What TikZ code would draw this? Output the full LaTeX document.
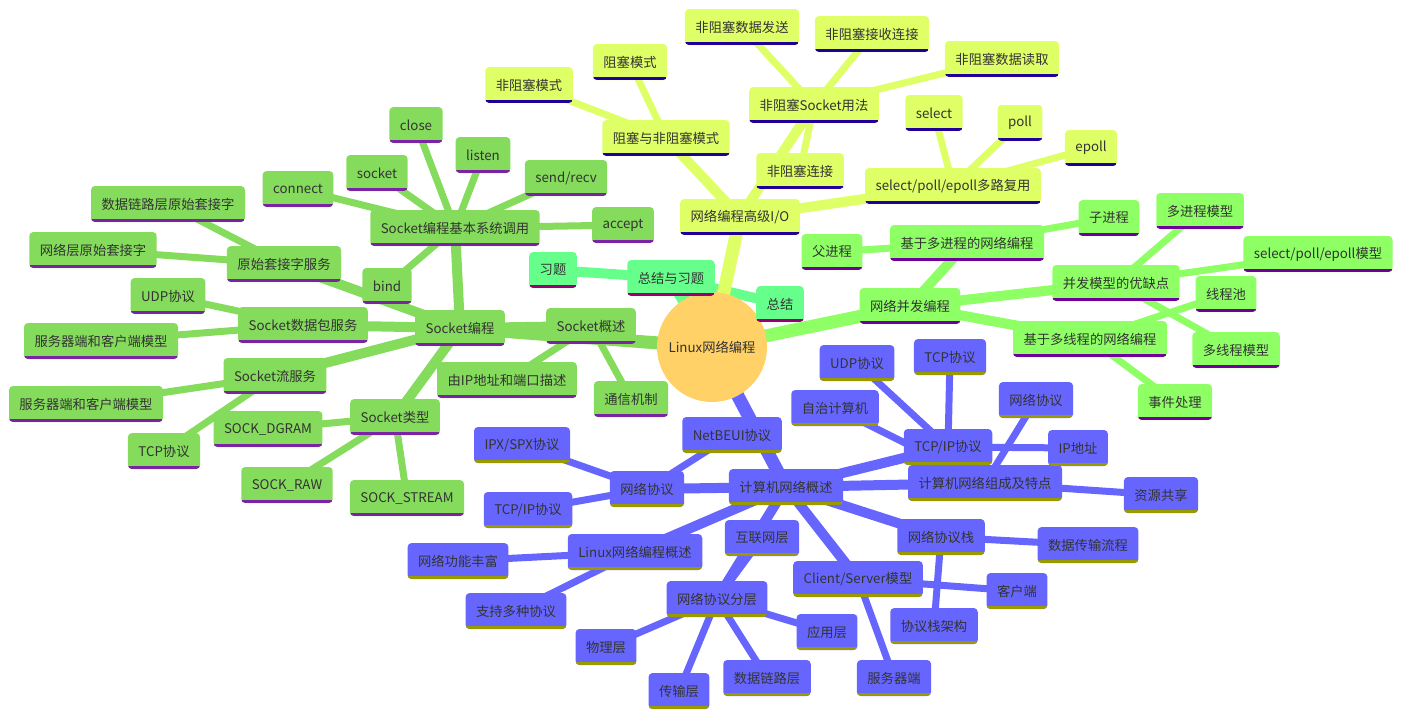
\documentclass[tikz,border=0pt]{standalone}
\usepackage{fontspec}
\setmainfont{Noto Sans CJK SC}
\usetikzlibrary{backgrounds}
\definecolor{cgreen}{RGB}{133,219,92}
\definecolor{ugreen}{RGB}{122,36,163}
\definecolor{cyellow}{RGB}{223,255,102}
\definecolor{uyellow}{RGB}{32,0,153}
\definecolor{cbright}{RGB}{143,255,102}
\definecolor{ubright}{RGB}{112,0,153}
\definecolor{cmint}{RGB}{102,255,140}
\definecolor{umint}{RGB}{153,0,115}
\definecolor{cblue}{RGB}{102,102,255}
\definecolor{ublue}{RGB}{153,153,0}
\definecolor{croot}{RGB}{255,209,102}
\definecolor{ctext}{RGB}{51,51,51}
\begin{document}
\begin{tikzpicture}[x=1pt,y=-1pt,
  mm/.style 2 args={draw=none, fill=#1, rounded corners=4pt, minimum height=36pt,
    inner xsep=10.5pt, inner ysep=0pt, text=ctext, font=\fontsize{13.3}{16}\selectfont,
    path picture={\fill[#2, sharp corners] ([yshift=3.5pt]path picture bounding box.south west) rectangle (path picture bounding box.south east);}},
  gn/.style={mm={cgreen}{ugreen}},
  yn/.style={mm={cyellow}{uyellow}},
  bn/.style={mm={cbright}{ubright}},
  mn/.style={mm={cmint}{umint}},
  vn/.style={mm={cblue}{ublue}},
  ea/.style={line width=13pt, draw=#1},
  eb/.style={line width=10pt, draw=#1},
  ec/.style={line width=7pt, draw=#1}]
\useasboundingbox (0,0) rectangle (1404,718);
% root
\node[circle, fill=croot, minimum size=110pt, inner sep=0pt, text=ctext, font=\fontsize{13.3}{16}\selectfont] (root) at (712,347) {Linux网络编程};
% Socket branch
\node[gn] (sk) at (460,328) {Socket编程};
\node[gn] (skov) at (591,326) {Socket概述};
\node[gn] (skip) at (507,380) {由IP地址和端口描述};
\node[gn] (skcm) at (631,399) {通信机制};
\node[gn] (sys) at (455,228) {Socket编程基本系统调用};
\node[gn] (acc) at (623,225) {accept};
\node[gn] (send) at (566,178) {send/recv};
\node[gn] (lis) at (483,155) {listen};
\node[gn] (sock) at (377,173) {socket};
\node[gn] (close) at (416,125) {close};
\node[gn] (conn) at (298,189) {connect};
\node[gn] (bind) at (387,286) {bind};
\node[gn] (raw) at (284,264) {原始套接字服务};
\node[gn] (rawdl) at (168,204) {数据链路层原始套接字};
\node[gn] (rawnl) at (93,250) {网络层原始套接字};
\node[gn] (dgs) at (303,325) {Socket数据包服务};
\node[gn] (udpg) at (168,296) {UDP协议};
\node[gn] (csma) at (101,341) {服务器端和客户端模型};
\node[gn] (sts) at (275,376) {Socket流服务};
\node[gn] (csmb) at (86,404) {服务器端和客户端模型};
\node[gn] (tcpg) at (164,451) {TCP协议};
\node[gn] (skt) at (395,417) {Socket类型};
\node[gn] (dgram) at (268,429) {SOCK\_DGRAM};
\node[gn] (sraw) at (287,485) {SOCK\_RAW};
\node[gn] (sstream) at (407,498) {SOCK\_STREAM};
% Advanced I/O branch
\node[yn] (aio) at (740,217) {网络编程高级I/O};
\node[yn] (bnb) at (666,138) {阻塞与非阻塞模式};
\node[yn] (nbm) at (529,85) {非阻塞模式};
\node[yn] (bm) at (630,62) {阻塞模式};
\node[yn] (nbs) at (814,105) {非阻塞Socket用法};
\node[yn] (nbsend) at (742,27) {非阻塞数据发送};
\node[yn] (nbacc) at (872,34) {非阻塞接收连接};
\node[yn] (nbread) at (1002,59) {非阻塞数据读取};
\node[yn] (nbconn) at (800,171) {非阻塞连接};
\node[yn] (mux) at (953,186) {select/poll/epoll多路复用};
\node[yn] (sel) at (934,113) {select};
\node[yn] (poll) at (1020,123) {poll};
\node[yn] (epoll) at (1091,148) {epoll};
% Concurrency branch
\node[bn] (conc) at (910,306) {网络并发编程};
\node[bn] (mp) at (967,243) {基于多进程的网络编程};
\node[bn] (parent) at (832,252) {父进程};
\node[bn] (child) at (1109,218) {子进程};
\node[bn] (pros) at (1116,283) {并发模型的优缺点};
\node[bn] (mpm) at (1200,211) {多进程模型};
\node[bn] (spem) at (1318,254) {select/poll/epoll模型};
\node[bn] (mtm) at (1236,350) {多线程模型};
\node[bn] (mt) at (1090,339) {基于多线程的网络编程};
\node[bn] (pool) at (1226,294) {线程池};
\node[bn] (evt) at (1175,402) {事件处理};
% Summary branch
\node[mn] (sum) at (671,278) {总结与习题};
\node[mn] (ex) at (553,270) {习题};
\node[mn] (sm) at (780,304) {总结};
% Network branch
\node[vn] (net) at (786,487) {计算机网络概述};
\node[vn] (proto) at (647,489) {网络协议};
\node[vn] (netbeui) at (732,435) {NetBEUI协议};
\node[vn] (ipx) at (522,445) {IPX/SPX协议};
\node[vn] (tcpipl) at (528,510) {TCP/IP协议};
\node[vn] (lnx) at (635,552) {Linux网络编程概述};
\node[vn] (rich) at (458,561) {网络功能丰富};
\node[vn] (multi) at (516,611) {支持多种协议};
\node[vn] (layers) at (717,599) {网络协议分层};
\node[vn] (inet) at (762,538) {互联网层};
\node[vn] (phy) at (606,647) {物理层};
\node[vn] (trans) at (679,691) {传输层};
\node[vn] (dl) at (767,678) {数据链路层};
\node[vn] (app) at (827,632) {应用层};
\node[vn] (cs) at (858,579) {Client/Server模型};
\node[vn] (srv) at (894,678) {服务器端};
\node[vn] (cli) at (1017,591) {客户端};
\node[vn] (stack) at (941,537) {网络协议栈};
\node[vn] (flow) at (1088,545) {数据传输流程};
\node[vn] (arch) at (934,626) {协议栈架构};
\node[vn] (comp) at (985,483) {计算机网络组成及特点};
\node[vn] (share) at (1161,495) {资源共享};
\node[vn] (auto) at (835,408) {自治计算机};
\node[vn] (protor) at (1036,400) {网络协议};
\node[vn] (tcpipr) at (948,447) {TCP/IP协议};
\node[vn] (udpb) at (857,363) {UDP协议};
\node[vn] (tcpb) at (950,357) {TCP协议};
\node[vn] (ip) at (1078,448) {IP地址};
\begin{pgfonlayer}{background}
% depth 3
\foreach \a/\b in {sys/acc,sys/send,sys/lis,sys/sock,sys/close,sys/conn,sys/bind,skov/skip,skov/skcm,raw/rawdl,raw/rawnl,dgs/udpg,dgs/csma,sts/csmb,sts/tcpg,skt/dgram,skt/sraw,skt/sstream}
  \draw[ec=cgreen] (\a.center) -- (\b.center);
\foreach \a/\b in {bnb/nbm,bnb/bm,nbs/nbsend,nbs/nbacc,nbs/nbread,nbs/nbconn,mux/sel,mux/poll,mux/epoll}
  \draw[ec=cyellow] (\a.center) -- (\b.center);
\foreach \a/\b in {mp/parent,mp/child,pros/mpm,pros/spem,pros/mtm,mt/pool,mt/evt}
  \draw[ec=cbright] (\a.center) -- (\b.center);
\foreach \a/\b in {proto/netbeui,proto/ipx,proto/tcpipl,lnx/rich,lnx/multi,layers/inet,layers/phy,layers/trans,layers/dl,layers/app,cs/srv,cs/cli,stack/flow,stack/arch,comp/share,comp/auto,comp/protor,tcpipr/udpb,tcpipr/tcpb,tcpipr/ip}
  \draw[ec=cblue] (\a.center) -- (\b.center);
% depth 2
\foreach \b in {skov,sys,raw,dgs,sts,skt}
  \draw[eb=cgreen] (sk.center) -- (\b.center);
\foreach \b in {bnb,nbs,mux}
  \draw[eb=cyellow] (aio.center) -- (\b.center);
\foreach \b in {mp,pros,mt}
  \draw[eb=cbright] (conc.center) -- (\b.center);
\foreach \b in {ex,sm}
  \draw[eb=cmint] (sum.center) -- (\b.center);
\foreach \b in {proto,lnx,layers,cs,stack,comp,tcpipr}
  \draw[eb=cblue] (net.center) -- (\b.center);
% depth 1
\draw[ea=cgreen] (root.center) -- (sk.center);
\draw[ea=cmint] (root.center) -- (sum.center);
\draw[ea=cyellow] (root.center) -- (aio.center);
\draw[ea=cbright] (root.center) -- (conc.center);
\draw[ea=cblue] (root.center) -- (net.center);
\end{pgfonlayer}
\end{tikzpicture}
\end{document}
